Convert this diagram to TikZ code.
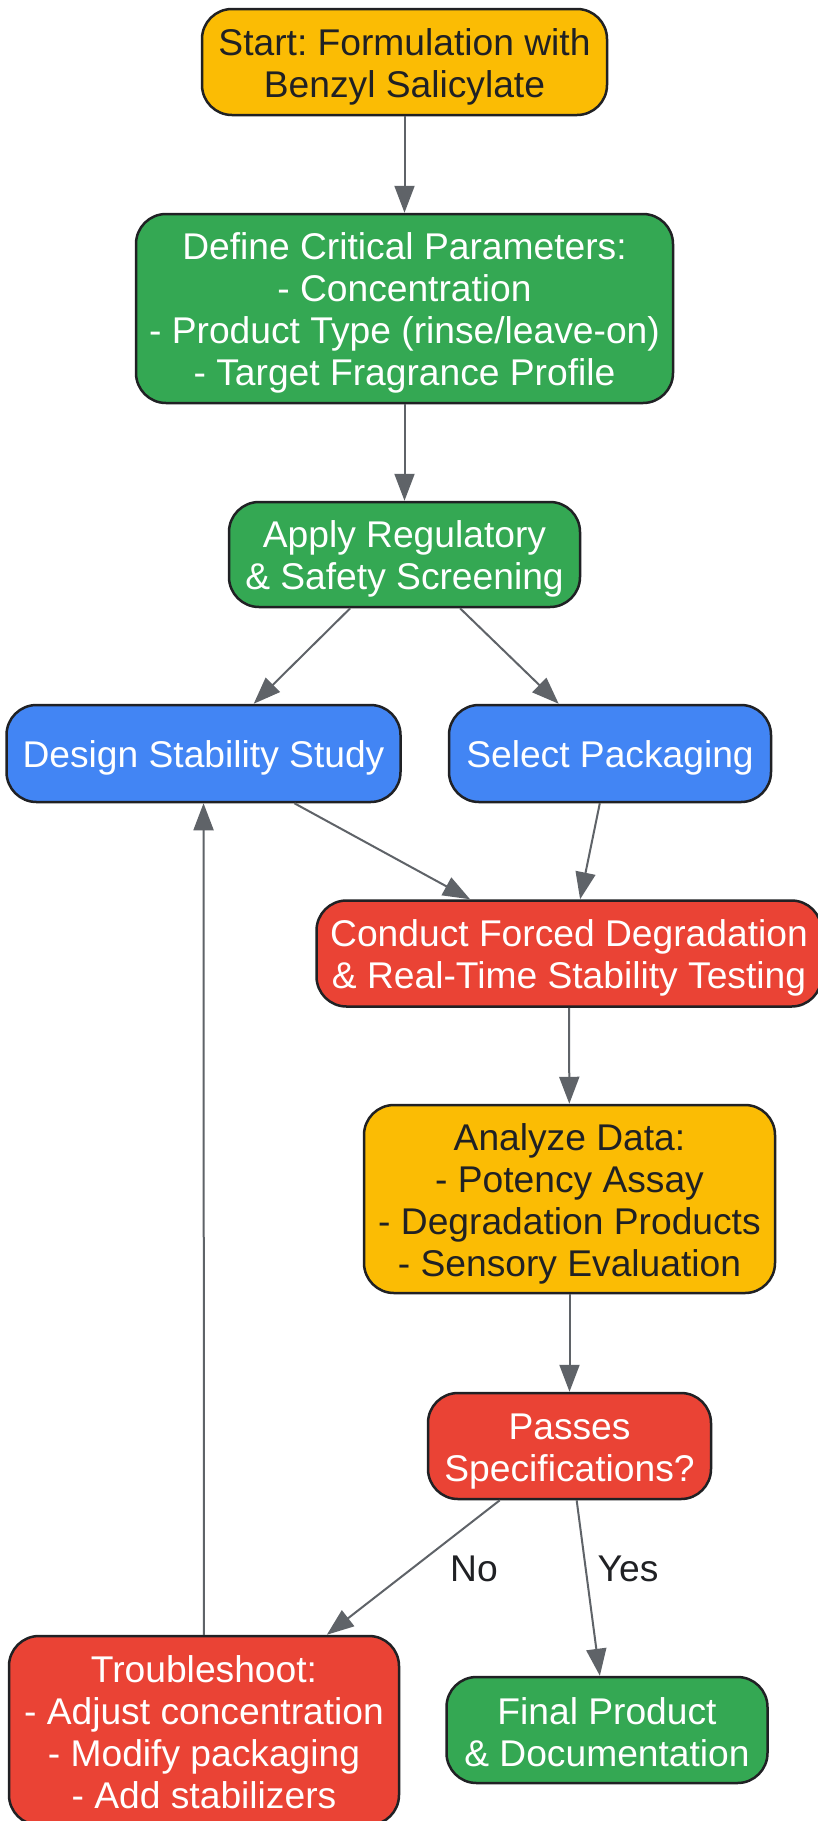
\documentclass[tikz,border=0pt]{standalone}
\usepackage{fontspec}
\setmainfont{Liberation Sans}
\usetikzlibrary{arrows.meta}
\definecolor{gyellow}{HTML}{FBBC04}
\definecolor{ggreen}{HTML}{34A853}
\definecolor{gblue}{HTML}{4285F4}
\definecolor{gred}{HTML}{EA4335}
\definecolor{gdark}{HTML}{202124}
\definecolor{gline}{HTML}{5F6368}
\frenchspacing
\newcommand{\tstr}{\rule{0pt}{36pt}}
\newcommand{\bstr}{\rule[-6pt]{0pt}{6pt}}
\begin{document}
\begin{tikzpicture}[x=1pt,y=-1pt,
  box/.style={draw=gdark, line width=2.5pt, rounded corners=30pt, inner sep=0pt,
    align=center, font=\fontsize{37.2}{42}\selectfont},
  ybox/.style={box, fill=gyellow, text=gdark},
  gbox/.style={box, fill=ggreen, text=white},
  bbox/.style={box, fill=gblue, text=white},
  rbox/.style={box, fill=gred, text=white},
  conn/.style={draw=gline, line width=2pt, -{Triangle[length=27pt,width=20pt]}},
  lbl/.style={text=gdark, font=\fontsize{37.2}{42}\selectfont}
]
\useasboundingbox (0,0) rectangle (817,1821);
\fill[white] (0,0) rectangle (817,1821);

\node[ybox, minimum width=405pt, minimum height=106pt] (start) at (404.5,62)
  {\tstr Start: Formulation with\\Benzyl Salicylate\bstr};
\node[gbox, minimum width=537pt, minimum height=189pt] (define) at (404.5,308.5)
  {\tstr Define Critical Parameters:\\- Concentration\\- Product Type (rinse/leave-on)\\- Target Fragrance Profile\bstr};
\node[gbox, minimum width=351pt, minimum height=105pt] (apply) at (404.5,554.5)
  {\tstr Apply Regulatory\\\& Safety Screening\bstr};
\node[bbox, minimum width=394pt, minimum height=97pt] (design) at (203.5,753.5)
  {\tstr Design Stability Study\bstr};
\node[bbox, minimum width=322pt, minimum height=97pt] (select) at (610,753.5)
  {\tstr Select Packaging\bstr};
\node[rbox, minimum width=505pt, minimum height=106pt] (conduct) at (569,953.5)
  {\tstr Conduct Forced Degradation\\\& Real-Time Stability Testing\bstr};
\node[ybox, minimum width=411pt, minimum height=188pt] (analyze) at (569.5,1199)
  {\tstr Analyze Data:\\- Potency Assay\\- Degradation Products\\- Sensory Evaluation\bstr};
\node[rbox, minimum width=283pt, minimum height=106pt] (passes) at (569.5,1446)
  {\tstr Passes\\Specifications?\bstr};
\node[rbox, minimum width=390pt, minimum height=189pt] (trouble) at (204,1730.5)
  {\tstr Troubleshoot:\\- Adjust concentration\\- Modify packaging\\- Add stabilizers\bstr};
\node[gbox, minimum width=321pt, minimum height=106pt] (final) at (607,1730)
  {\tstr Final Product\\\& Documentation\bstr};

\draw[conn] (start) -- (define);
\draw[conn] (define) -- (apply);
\draw[conn] (apply) -- (design);
\draw[conn] (apply) -- (select);
\draw[conn] (design) -- (conduct);
\draw[conn] (select) -- (conduct);
\draw[conn] (conduct) -- (analyze);
\draw[conn] (analyze) -- (passes);
\draw[conn] (passes) -- (trouble);
\draw[conn] (passes) -- (final);
\draw[conn] (trouble) -- (design);

\node[lbl] (nolbl) at (474,1569) {No};
\node[lbl] (yeslbl) at (628,1569) {Yes};
\end{tikzpicture}
\end{document}
